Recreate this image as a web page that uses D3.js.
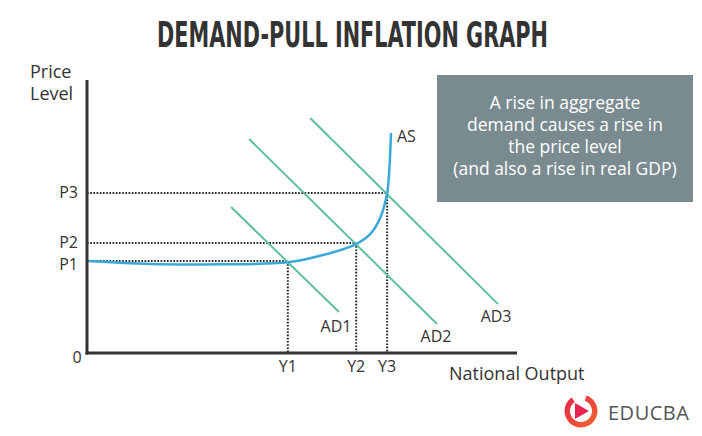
<!DOCTYPE html>
<html><head><meta charset="utf-8">
<script src="https://cdn.jsdelivr.net/npm/d3@7"></script>
<style>body{margin:0;background:#fff}svg{display:block}</style>
</head><body>
<svg id="c" width="702" height="436"></svg>
<script>
// ---- data (arbitrary units 0..100) ----
const outputLevels = [{name:"Y1", v:46.7},{name:"Y2", v:62.6},{name:"Y3", v:69.8}];
const priceLevels  = [{name:"P1", v:33.7},{name:"P2", v:40.3},{name:"P3", v:58.6}];
const asCurve = [[0,33.7],[14.7,32.6],[30.9,32.5],[46.7,33.2],[54.2,35.6],[62.6,39.9],[65.9,43.6],[68.2,49.5],[69.8,58.6],[70.3,67],[70.7,80.6]];
const adCurves = [
  {name:"AD1", pts:[[33.5,53.5],[58.6,15.0]]},
  {name:"AD2", pts:[[37.7,78.4],[81.4,10.6]]},
  {name:"AD3", pts:[[51.9,86.1],[95.6,17.9]]}
];
const boxLines = ["A rise in aggregate","demand causes a rise in","the price level","(and also a rise in real GDP)"];

const svg = d3.select("#c");
const x = d3.scaleLinear().domain([0,100]).range([87,517]);
const y = d3.scaleLinear().domain([0,100]).range([353,80]);
const font = "'Open Sans', 'Noto Sans', sans-serif";

// title
const title = svg.append("text").attr("x",0).attr("y",0)
  .style("font-family","'Liberation Sans Narrow','DejaVu Sans Condensed',sans-serif")
  .style("font-weight","bold").style("font-size","35px").style("fill","#333")
  .text("DEMAND-PULL INFLATION GRAPH");
const tw = title.node().getComputedTextLength();
title.attr("transform",`translate(157,47) scale(${391/tw},1)`);

// dotted guides
priceLevels.forEach((p,i)=>{
  const yl = outputLevels[i];
  [[x(0),y(p.v),x(yl.v),y(p.v)],[x(yl.v),y(p.v),x(yl.v),y(0)]].forEach(c=>
    svg.append("line").attr("x1",c[0]).attr("y1",c[1]).attr("x2",c[2]).attr("y2",c[3])
      .attr("stroke","#222").attr("stroke-width",2).attr("stroke-dasharray","1.6,1.6"));
});

// AD lines
const line = d3.line().x(d=>x(d[0])).y(d=>y(d[1]));
svg.selectAll(".ad").data(adCurves).enter().append("path")
  .attr("d",d=>line(d.pts)).attr("fill","none").attr("stroke","#5fbf9f").attr("stroke-width",2);

// AS curve
svg.append("path").attr("d", d3.line().x(d=>x(d[0])).y(d=>y(d[1])).curve(d3.curveCatmullRom.alpha(0.5))(asCurve))
  .attr("fill","none").attr("stroke","#3aa9d9").attr("stroke-width",2.5);

// axes
svg.append("line").attr("x1",x(0)).attr("x2",x(0)).attr("y1",y(100)).attr("y2",y(0)+1.5).attr("stroke","#333").attr("stroke-width",3);
svg.append("line").attr("x1",x(0)-1.5).attr("x2",x(100)).attr("y1",y(0)).attr("y2",y(0)).attr("stroke","#333").attr("stroke-width",3);

const txt = (t,xx,yy,anchor,size,color)=>svg.append("text").attr("x",xx).attr("y",yy)
  .attr("text-anchor",anchor||"start").style("font-family",font).style("font-size",(size||14)+"px")
  .style("fill",color||"#333").text(t);

// labels
const pOff = [9,5,5];
priceLevels.forEach((p,i)=>txt(p.name, 78, y(p.v)+pOff[i], "end", 16));
outputLevels.forEach(o=>txt(o.name, x(o.v), 372, "middle", 16));
txt("0", 77, 363, "middle", 16);
txt("Price", 30, 78, "start", 18);
txt("Level", 30, 100, "start", 18);
txt("National Output", 449, 380, "start", 18);
txt("AS", 397, 142, "start", 16);
const adOff = [[-3,20],[-1,18],[-2,18]];
adCurves.forEach((a,i)=>txt(a.name, x(a.pts[1][0])+adOff[i][0], y(a.pts[1][1])+adOff[i][1], "middle", 16));

// annotation box
svg.append("rect").attr("x",437).attr("y",75).attr("width",256).attr("height",127).attr("fill","#7a8b90");
boxLines.forEach((l,i)=>txt(l, 565, 109+i*22, "middle", 17.5, "#fff"));

// logo
const g = svg.append("g").attr("transform","translate(581,411)");
const grad = svg.append("defs").append("linearGradient").attr("id","lg").attr("x1","0").attr("y1","0").attr("x2","1").attr("y2","1");
grad.append("stop").attr("offset","0").attr("stop-color","#e8234f");
grad.append("stop").attr("offset","1").attr("stop-color","#f26a2a");
g.append("path").attr("d", d3.arc().innerRadius(11).outerRadius(16.5).startAngle(0.35).endAngle(2*Math.PI-0.6)()).attr("fill","url(#lg)");
g.append("path").attr("d","M-6,-8 L8,0 L-6,8 Z").attr("fill","#e8234f");
txt("EDUCBA", 608, 420, "start", 20, "#555").style("letter-spacing","0.5px");
</script>
</body></html>
